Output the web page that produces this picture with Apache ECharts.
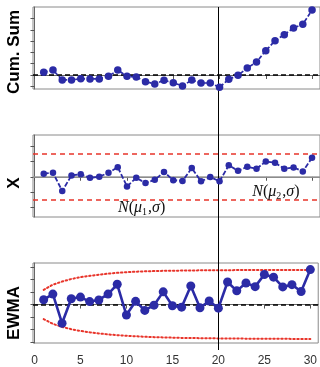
<!DOCTYPE html>
<html><head><meta charset="utf-8">
<script src="https://cdn.jsdelivr.net/npm/echarts@6/dist/echarts.min.js"></script>
<style>html,body{margin:0;padding:0;background:#fff}#c{width:320px;height:367px}</style>
</head><body><div id="c"></div>
<script>
const idx = [1,2,3,4,5,6,7,8,9,10,11,12,13,14,15,16,17,18,19,20,21,22,23,24,25,26,27,28,29,30];
const cusum = [0.24,0.44,-0.44,-0.44,-0.33,-0.35,-0.35,-0.12,0.44,-0.12,-0.18,-0.59,-0.8,-0.47,-0.68,-0.97,-0.44,-0.71,-0.71,-1.09,-0.38,-0.03,0.62,1.15,2.15,3.04,3.57,4.16,4.49,5.75];
const xVals = [0.2,0.26,-0.93,0.09,0.16,-0.07,0,0.26,0.63,-0.63,-0.07,-0.41,-0.2,0.31,-0.22,-0.28,0.57,-0.3,-0.02,-0.3,0.75,0.39,0.65,0.52,1.0,0.92,0.52,0.61,0.35,1.24];
const ewma = [0.39,0.84,-1.5,0.47,0.6,0.24,0.37,0.84,1.63,-0.84,0.26,-0.47,-0.05,1.02,-0.1,-0.21,1.5,-0.26,0.29,-0.29,1.81,1.1,1.73,1.44,2.42,2.2,1.42,1.6,1.05,2.81];
const ewmaUCL = [1.18,1.6,1.85,2.05,2.2,2.31,2.4,2.48,2.55,2.6,2.64,2.67,2.69,2.71,2.72,2.73,2.74,2.75,2.75,2.76,2.76,2.77,2.77,2.77,2.77,2.78,2.78,2.78,2.78,2.78];
const ewmaLCL = [-1.17,-1.55,-1.8,-1.98,-2.12,-2.23,-2.32,-2.4,-2.46,-2.51,-2.55,-2.59,-2.62,-2.64,-2.66,-2.68,-2.69,-2.7,-2.71,-2.72,-2.73,-2.73,-2.74,-2.74,-2.75,-2.75,-2.75,-2.76,-2.76,-2.76];
const xLimits = [1.5, -1.5];
const centerLine = 0;
const changePoint = 19.85;
const xTickVals = [0,5,10,15,20,25,30];
const cusumTicks = [-1,0,1,2,3,4,5];
const xPanelTicks = [-2,-1,0,1,2];
const ewmaTicks = [-3,-2,-1,0,1,2,3];
const panelTitles = ['Cum. Sum','X','EWMA'];
const annotations = [{x:11.58, y:-2.05, sub:'1'},{x:26.1, y:-1.0, sub:'2'}];

const BLUE = '#2b2ba6';
const RED = '#e8342a';
const pair = arr => idx.map((v,i)=>[v,arr[i]]);

const chart = echarts.init(document.getElementById('c'), null, {renderer:'canvas'});
const L = 33, W = 288;
const grids = [
  {left:L, top:7, width:W, height:82, show:true, borderColor:'#8a8a8a', borderWidth:1},
  {left:L, top:135, width:W, height:82, show:true, borderColor:'#8a8a8a', borderWidth:1},
  {left:L, top:263, width:W, height:82, show:true, borderColor:'#8a8a8a', borderWidth:1},
  {left:L, top:7, width:W, height:343, show:false}
];
function xAx(gi, labels){
  return {type:'value', gridIndex:gi, min:-0.16, max:30.86, show: gi<3,
    axisLine:{show:true, lineStyle:{color:'#666'}},
    axisTick:{show:true, customValues:xTickVals, length:4, inside:false, lineStyle:{color:'#555'}},
    axisLabel:{show:labels, customValues:xTickVals, margin:12, fontSize:12, color:'#333', fontFamily:'Liberation Sans, Arial'},
    splitLine:{show:false}};
}
function yAx(gi, min, max, ticks){
  return {type:'value', gridIndex:gi, min:min, max:max, show: gi<3,
    axisLine:{show:true, lineStyle:{color:'#666'}},
    axisTick:{show:true, customValues:ticks, length:4, lineStyle:{color:'#555'}},
    axisLabel:{show:false},
    splitLine:{show:false}};
}
const hline = (y, color, type, width) => ({yAxis:y, lineStyle:{color:color, type:type, width:width}});

const option = {
  animation:false,
  grid:grids,
  xAxis:[xAx(0,false), xAx(1,false), xAx(2,true), xAx(3,false)],
  yAxis:[yAx(0,-1.24,6.02,cusumTicks), yAx(1,-2.63,2.73,xPanelTicks), yAx(2,-3.09,3.34,ewmaTicks), {type:'value', gridIndex:3, min:0, max:1, show:false}],
  graphic: panelTitles.map((t,i)=>({type:'text', x:14, y:[52,183,313][i], rotation:Math.PI/2,
    style:{text:t, font:'bold 17px "Liberation Sans", Arial, sans-serif', fill:'#000', align:'center', verticalAlign:'middle'}})),
  series:[
    {type:'line', xAxisIndex:0, yAxisIndex:0, data:pair(cusum), symbol:'circle', symbolSize:7.5,
      itemStyle:{color:BLUE}, lineStyle:{color:BLUE, width:1.7, type:[4,2]}, z:5,
      markLine:{silent:true, symbol:'none', label:{show:false}, data:[hline(centerLine,'#000',[5,3],1.5)]}},
    {type:'line', xAxisIndex:1, yAxisIndex:1, data:pair(xVals), symbol:'circle', symbolSize:6.5,
      itemStyle:{color:BLUE}, lineStyle:{color:BLUE, width:1.8, type:[5,2]}, z:5,
      markLine:{silent:true, symbol:'none', label:{show:false}, data:[
        hline(centerLine,'#9a9a9a','solid',1.5), hline(xLimits[0],RED,[5,4],1.5), hline(xLimits[1],RED,[5,4],1.5)]},
      markPoint:{symbol:'circle', symbolSize:0, silent:true,
        data: annotations.map(a=>({coord:[a.x,a.y], value:a.sub})),
        label:{show:true, position:'inside',
          formatter: p => '{i|N}{n|(}{i|μ}{s|'+p.value+'}{n|,}{i|σ}{n|)}',
          rich:{
            i:{fontFamily:'"Liberation Serif", "Times New Roman", serif', fontStyle:'italic', fontSize:16, color:'#111'},
            n:{fontFamily:'"Liberation Serif", "Times New Roman", serif', fontSize:16, color:'#111'},
            s:{fontFamily:'"Liberation Serif", "Times New Roman", serif', fontSize:10, color:'#111', padding:[9,1,0,0]}
          }}}},
    {type:'line', xAxisIndex:2, yAxisIndex:2, data:pair(ewmaUCL), symbol:'none',
      lineStyle:{color:RED, width:2, type:[1.5,2.5], cap:'round'}, z:3},
    {type:'line', xAxisIndex:2, yAxisIndex:2, data:pair(ewmaLCL), symbol:'none',
      lineStyle:{color:RED, width:2, type:[1.5,2.5], cap:'round'}, z:3},
    {type:'line', xAxisIndex:2, yAxisIndex:2, data:pair(ewma), symbol:'circle', symbolSize:9,
      itemStyle:{color:BLUE}, lineStyle:{color:BLUE, width:2.6}, z:5,
      markLine:{silent:true, symbol:'none', label:{show:false}, data:[hline(centerLine,'#000',[5,3],1.5)]}},
    {type:'line', xAxisIndex:3, yAxisIndex:3, data:[], z:6,
      markLine:{silent:true, symbol:'none', label:{show:false}, data:[{xAxis:changePoint, lineStyle:{color:'#000', type:'solid', width:1}}]}}
  ]
};
chart.setOption(option);
</script></body></html>
